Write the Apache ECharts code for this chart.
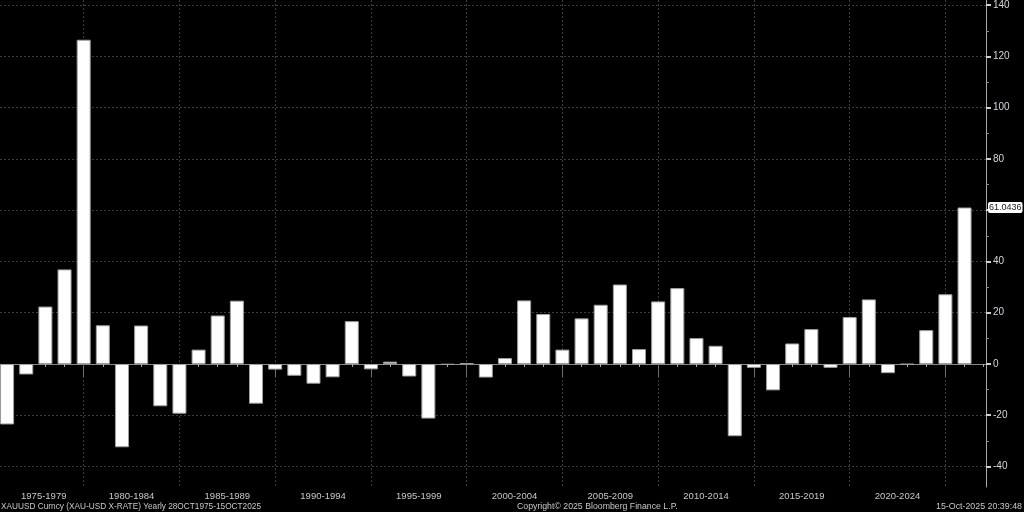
<!DOCTYPE html>
<html>
<head>
<meta charset="utf-8">
<script src="https://cdn.jsdelivr.net/npm/echarts@6/dist/echarts.min.js"></script>
<style>
  html, body { margin: 0; padding: 0; background: #000; }
  #chart { width: 1024px; height: 512px; }
</style>
</head>
<body>
<div id="chart"></div>
<script>
  // 年份（每根柱子一个）
  const years = [
    1975, 1976, 1977, 1978, 1979, 1980, 1981, 1982, 1983, 1984,
    1985, 1986, 1987, 1988, 1989, 1990, 1991, 1992, 1993, 1994,
    1995, 1996, 1997, 1998, 1999, 2000, 2001, 2002, 2003, 2004,
    2005, 2006, 2007, 2008, 2009, 2010, 2011, 2012, 2013, 2014,
    2015, 2016, 2017, 2018, 2019, 2020, 2021, 2022, 2023, 2024,
    2025
  ];
  // XAUUSD 年度涨跌幅 %
  const returns = [
    -23.6, -4.1, 22.4, 36.9, 126.5, 15.1, -32.5, 15.0, -16.5, -19.4,
    5.6, 18.9, 24.7, -15.5, -2.2, -4.6, -7.7, -5.2, 16.7, -2.1,
    0.9, -4.9, -21.3, -0.3, 0.2, -5.3, 2.3, 24.8, 19.5, 5.6,
    17.8, 23.1, 31.0, 5.8, 24.4, 29.6, 10.1, 7.1, -28.2, -1.5,
    -10.3, 8.0, 13.6, -1.5, 18.3, 25.2, -3.6, -0.2, 13.2, 27.2,
    61.0436
  ];
  // x 轴分组标签
  const xLabels = [
    "1975-1979", "1980-1984", "1985-1989", "1990-1994", "1995-1999",
    "2000-2004", "2005-2009", "2010-2014", "2015-2019", "2020-2024"
  ];
  // 分隔线所在年份
  const separators = [1979, 1984, 1989, 1994, 1999, 2004, 2009, 2014, 2019, 2024];
  // y 轴刻度
  const yMajor = [-40, -20, 0, 20, 40, 60, 80, 100, 120, 140];
  const yMinor = [-30, -10, 10, 30, 50, 70, 90, 110, 130];
  const yLabelValues = [-40, -20, 0, 20, 40, 80, 100, 120, 140];

  const xMin = 1974.63, xMax = 2026.12;
  const yMin = -48.0, yMax = 142.0;

  // 每年一个小刻度（含右侧空白处的 2026）
  const yearTicks = years.concat([2026]);
  const labelPos = xLabels.map((l, i) => i === 0 ? (xMin + separators[0]) / 2 + 0.1 : Number(l.slice(0, 4)) + 1.5);
  const lastValue = returns[returns.length - 1];

  const chart = echarts.init(document.getElementById("chart"));
  const font = "Liberation Sans";
  const footStyle = { fill: "#c8c8c8", fontSize: 9.5, fontFamily: font };
  const option = {
    backgroundColor: "#000",
    animation: false,
    grid: { left: 0, right: 38, top: 0, bottom: 25, outerBoundsMode: "none" },
    xAxis: [
      {
        type: "value", min: xMin, max: xMax, position: "bottom",
        axisLine: { show: true, lineStyle: { color: "#8a8a8a", width: 1 } },
        axisTick: { show: true, customValues: yearTicks, length: 3, lineStyle: { color: "#b0b0b0" } },
        axisLabel: { show: false },
        splitLine: { show: false }
      },
      {
        type: "value", min: xMin, max: xMax, position: "bottom",
        axisLine: { show: false },
        axisTick: { show: true, customValues: separators, length: 13, lineStyle: { color: "#707070" } },
        axisLabel: {
          show: true, customValues: labelPos, margin: 4,
          color: "#c8c8c8", fontSize: 9.5, fontFamily: font,
          formatter: v => xLabels[Math.round((v - 1975) / 5)]
        },
        splitLine: { show: true, lineStyle: { color: "#3c3c3c", type: [2, 2] } }
      }
    ],
    yAxis: [
      {
        type: "value", min: yMin, max: yMax, position: "right",
        axisLine: { show: true, lineStyle: { color: "#a8a8a8" } },
        axisTick: { show: true, customValues: yMajor, length: 5, lineStyle: { color: "#d0d0d0", width: 2 } },
        axisLabel: {
          show: true, customValues: yLabelValues, margin: 7,
          color: "#d0d6dc", fontSize: 10, fontFamily: font
        },
        splitLine: { show: true, lineStyle: { color: "#3c3c3c", type: [2, 2] } }
      },
      {
        type: "value", min: yMin, max: yMax, position: "right",
        axisLine: { show: false },
        axisTick: { show: true, customValues: yMinor, length: 3, lineStyle: { color: "#8a8a8a" } },
        axisLabel: { show: false },
        splitLine: { show: false }
      }
    ],
    series: [
      {
        type: "bar",
        xAxisIndex: 0,
        yAxisIndex: 0,
        barWidth: 14,
        data: years.map((y, i) => [y, returns[i]]),
        itemStyle: { color: "#ffffff", borderColor: "#a0a0a0", borderWidth: 1 },
        markLine: {
          silent: true,
          symbol: "none",
          lineStyle: { color: "rgba(0,0,0,0)", width: 0 },
          label: {
            show: true, position: "end", distance: 2,
            formatter: String(lastValue),
            color: "#1a1a1a", backgroundColor: "#ffffff",
            padding: [1, 1], borderRadius: 2,
            fontSize: 9, fontFamily: font
          },
          emphasis: { disabled: true },
          data: [{ yAxis: lastValue }]
        }
      }
    ],
    graphic: [
      {
        type: "text", x: 1, y: 501, scaleX: 0.87,
        style: Object.assign({ text: "XAUUSD Curncy (XAU-USD X-RATE) Yearly 28OCT1975-15OCT2025" }, footStyle)
      },
      {
        type: "text", x: 517, y: 501, scaleX: 0.92,
        style: Object.assign({ text: "Copyright\u00A9 2025 Bloomberg Finance L.P." }, footStyle)
      },
      {
        type: "text", x: 936, y: 501, scaleX: 0.93,
        style: Object.assign({ text: "15-Oct-2025 20:39:48" }, footStyle)
      }
    ]
  };
  chart.setOption(option);
</script>
</body>
</html>
